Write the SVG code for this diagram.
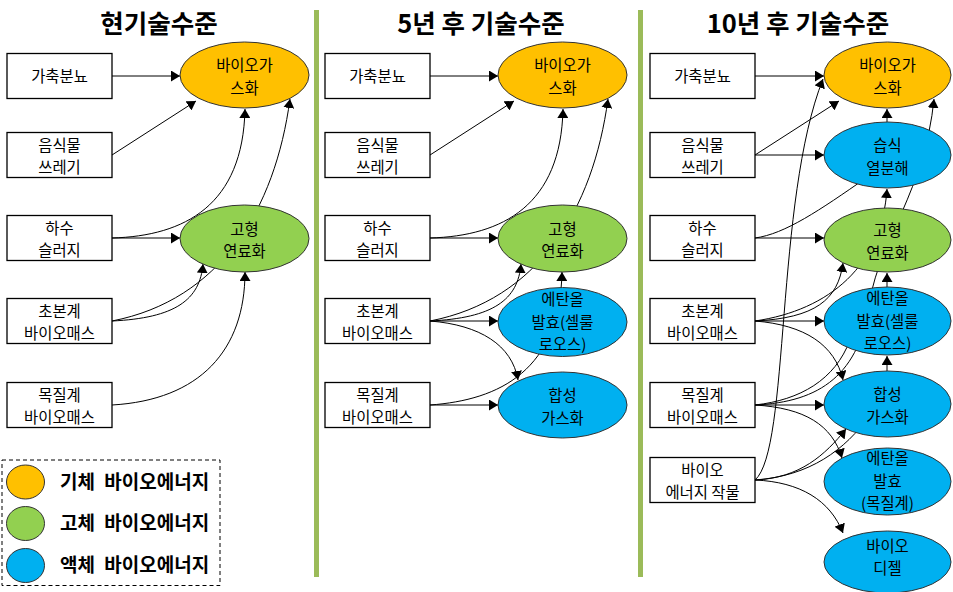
<svg xmlns="http://www.w3.org/2000/svg" width="953" height="592" viewBox="0 0 953 592">
<style>
text{font-family:"Noto Sans CJK KR","Liberation Sans",sans-serif;fill:#000}
.t{font-size:15.4px;text-anchor:middle}
.title{font-size:25.5px;font-weight:bold;text-anchor:middle}
.leg{font-size:19px;font-weight:bold;word-spacing:5px}
.box{fill:#fff;stroke:#000;stroke-width:1.3}
.gas{fill:#FFC000;stroke:#333;stroke-width:1}
.sol{fill:#92D050;stroke:#333;stroke-width:1}
.liq{fill:#00B0F0;stroke:#333;stroke-width:1}
.sep{fill:#9BBB59}
#connectors path{fill:none;stroke:#000;stroke-width:1}
#connectors path.a{marker-end:url(#ah)}
</style>
<defs>
<marker id="ah" viewBox="0 0 10 10" refX="10" refY="5" markerWidth="9" markerHeight="11" markerUnits="userSpaceOnUse" orient="auto" preserveAspectRatio="none"><path d="M0,0 L10,5 L0,10 z" fill="#000"/></marker>
</defs>
<rect width="953" height="592" fill="#fff"/>
<rect class="sep" x="314" y="10" width="5" height="567"/>
<rect class="sep" x="638" y="10" width="5" height="567"/>
<text class="title" x="159" y="33">현기술수준</text>
<text class="title" x="481" y="33">5년 후 기술수준</text>
<text class="title" x="798" y="33">10년 후 기술수준</text>
<g id="connectors">
<!-- panel 1 -->
<path class="a" d="M112,76 L180,76"/>
<path class="a" d="M112,155 L196,101"/>
<path class="a" d="M112,238 L180,238"/>
<path class="a" d="M112,238 C185,236 243,205 245,109"/>
<path class="a" d="M112,321 C220,300 275,210 290,99"/>
<path class="a" d="M112,321 C175,318 200,300 203,264"/>
<path class="a" d="M112,405 C200,400 245,350 245,272"/>
<!-- panel 2 -->
<path class="a" d="M430,76 L498,76"/>
<path class="a" d="M430,155 L514,101"/>
<path class="a" d="M430,238 L498,238"/>
<path class="a" d="M430,238 C503,236 561,205 563,109"/>
<path class="a" d="M430,321 C538,300 593,210 608,99"/>
<path class="a" d="M430,321 C493,318 518,300 521,264"/>
<path class="a" d="M430,321 L498,321"/>
<path class="a" d="M430,321 C480,325 512,345 518,380"/>
<path class="a" d="M430,405 L498,405"/>
<path class="a" d="M430,405 C500,400 560,370 562,272"/>
<!-- panel 3 -->
<path class="a" d="M755,76 L824,76"/>
<path class="a" d="M755,155 L839,101"/>
<path class="a" d="M755,155 L824,155"/>
<path class="a" d="M755,238 L824,238"/>
<path class="a" d="M755,238 C785,234 820,210 866,178 L887,140 L887,109"/>
<path class="a" d="M755,321 C815,318 838,300 843,263"/>
<path class="a" d="M755,321 C830,310 882,265 887,189"/>
<path class="a" d="M755,321 L824,321"/>
<path class="a" d="M755,321 C805,325 835,345 843,380"/>
<path class="a" d="M755,405 L824,405"/>
<path class="a" d="M755,405 C820,402 860,375 870,300 C880,240 925,190 934,99"/>
<path class="a" d="M755,405 C800,400 835,380 850,340 L887,300 L887,273"/>
<path class="a" d="M755,405 C805,408 832,425 842,458"/>
<path class="a" d="M755,480 C800,478 825,455 846,429"/>
<path class="a" d="M755,480 C810,476 845,450 870,415 L887,390 L887,356"/>
<path class="a" d="M755,480 C800,482 830,500 843,533"/>
<path class="a" d="M755,480 C790,450 775,200 823,79"/>
</g>
<!-- panel 1 nodes -->
<g id="p1-manure"><rect class="box" x="7" y="53.5" width="105" height="45"/><text class="t" x="59.5" y="81.5">가축분뇨</text></g>
<g id="p1-food"><rect class="box" x="7" y="132.5" width="105" height="45"/><text class="t"><tspan x="59.5" y="150.5">음식물</tspan><tspan x="59.5" y="173">쓰레기</tspan></text></g>
<g id="p1-sludge"><rect class="box" x="7" y="215.5" width="105" height="45"/><text class="t"><tspan x="59.5" y="233.5">하수</tspan><tspan x="59.5" y="256">슬러지</tspan></text></g>
<g id="p1-herb"><rect class="box" x="7" y="298.5" width="105" height="45"/><text class="t"><tspan x="59.5" y="316.5">초본계</tspan><tspan x="59.5" y="339">바이오매스</tspan></text></g>
<g id="p1-wood"><rect class="box" x="7" y="382.5" width="105" height="45"/><text class="t"><tspan x="59.5" y="400.5">목질계</tspan><tspan x="59.5" y="423">바이오매스</tspan></text></g>
<g id="p1-biogas"><ellipse class="gas" cx="244.5" cy="75" rx="64.5" ry="33"/><text class="t"><tspan x="244.5" y="71">바이오가</tspan><tspan x="244.5" y="93.5">스화</tspan></text></g>
<g id="p1-solid"><ellipse class="sol" cx="244.5" cy="238.5" rx="64.5" ry="33.5"/><text class="t"><tspan x="244.5" y="234.5">고형</tspan><tspan x="244.5" y="257">연료화</tspan></text></g>
<!-- panel 2 nodes -->
<g id="p2-manure"><rect class="box" x="325" y="53.5" width="105" height="45"/><text class="t" x="377.5" y="81.5">가축분뇨</text></g>
<g id="p2-food"><rect class="box" x="325" y="132.5" width="105" height="45"/><text class="t"><tspan x="377.5" y="150.5">음식물</tspan><tspan x="377.5" y="173">쓰레기</tspan></text></g>
<g id="p2-sludge"><rect class="box" x="325" y="215.5" width="105" height="45"/><text class="t"><tspan x="377.5" y="233.5">하수</tspan><tspan x="377.5" y="256">슬러지</tspan></text></g>
<g id="p2-herb"><rect class="box" x="325" y="298.5" width="105" height="45"/><text class="t"><tspan x="377.5" y="316.5">초본계</tspan><tspan x="377.5" y="339">바이오매스</tspan></text></g>
<g id="p2-wood"><rect class="box" x="325" y="382.5" width="105" height="45"/><text class="t"><tspan x="377.5" y="400.5">목질계</tspan><tspan x="377.5" y="423">바이오매스</tspan></text></g>
<g id="p2-biogas"><ellipse class="gas" cx="562.5" cy="75" rx="64.5" ry="33"/><text class="t"><tspan x="562.5" y="71">바이오가</tspan><tspan x="562.5" y="93.5">스화</tspan></text></g>
<g id="p2-solid"><ellipse class="sol" cx="562.5" cy="238.5" rx="64.5" ry="33.5"/><text class="t"><tspan x="562.5" y="234.5">고형</tspan><tspan x="562.5" y="257">연료화</tspan></text></g>
<g id="p2-ethanol"><ellipse class="liq" cx="562.5" cy="322" rx="64.5" ry="34.5"/><text class="t"><tspan x="562.5" y="305">에탄올</tspan><tspan x="562.5" y="327.5">발효(셀룰</tspan><tspan x="562.5" y="350">로오스)</tspan></text></g>
<g id="p2-syngas"><ellipse class="liq" cx="562.5" cy="405" rx="64.5" ry="33"/><text class="t"><tspan x="562.5" y="401">합성</tspan><tspan x="562.5" y="423.5">가스화</tspan></text></g>
<!-- panel 3 nodes -->
<g id="p3-manure"><rect class="box" x="650" y="53.5" width="105" height="45"/><text class="t" x="702.5" y="81.5">가축분뇨</text></g>
<g id="p3-food"><rect class="box" x="650" y="132.5" width="105" height="45"/><text class="t"><tspan x="702.5" y="150.5">음식물</tspan><tspan x="702.5" y="173">쓰레기</tspan></text></g>
<g id="p3-sludge"><rect class="box" x="650" y="215.5" width="105" height="45"/><text class="t"><tspan x="702.5" y="233.5">하수</tspan><tspan x="702.5" y="256">슬러지</tspan></text></g>
<g id="p3-herb"><rect class="box" x="650" y="298.5" width="105" height="45"/><text class="t"><tspan x="702.5" y="316.5">초본계</tspan><tspan x="702.5" y="339">바이오매스</tspan></text></g>
<g id="p3-wood"><rect class="box" x="650" y="382.5" width="105" height="45"/><text class="t"><tspan x="702.5" y="400.5">목질계</tspan><tspan x="702.5" y="423">바이오매스</tspan></text></g>
<g id="p3-crop"><rect class="box" x="650" y="457.5" width="105" height="45"/><text class="t"><tspan x="702.5" y="475.5">바이오</tspan><tspan x="702.5" y="498">에너지 작물</tspan></text></g>
<g id="p3-biogas"><ellipse class="gas" cx="887.5" cy="75" rx="63.5" ry="33"/><text class="t"><tspan x="887.5" y="71">바이오가</tspan><tspan x="887.5" y="93.5">스화</tspan></text></g>
<g id="p3-htc"><ellipse class="liq" cx="887.5" cy="155" rx="63.5" ry="33"/><text class="t"><tspan x="887.5" y="151">습식</tspan><tspan x="887.5" y="173.5">열분해</tspan></text></g>
<g id="p3-solid"><ellipse class="sol" cx="887.5" cy="240" rx="63.5" ry="32"/><text class="t"><tspan x="887.5" y="236">고형</tspan><tspan x="887.5" y="258.5">연료화</tspan></text></g>
<g id="p3-ethanol"><ellipse class="liq" cx="887.5" cy="321" rx="63.5" ry="34"/><text class="t"><tspan x="887.5" y="304">에탄올</tspan><tspan x="887.5" y="326.5">발효(셀룰</tspan><tspan x="887.5" y="349">로오스)</tspan></text></g>
<g id="p3-syngas"><ellipse class="liq" cx="887.5" cy="404" rx="63.5" ry="33"/><text class="t"><tspan x="887.5" y="400">합성</tspan><tspan x="887.5" y="422.5">가스화</tspan></text></g>
<g id="p3-ethanol-wood"><ellipse class="liq" cx="887.5" cy="481.5" rx="63.5" ry="33.5"/><text class="t"><tspan x="887.5" y="464">에탄올</tspan><tspan x="887.5" y="486.5">발효</tspan><tspan x="887.5" y="509">(목질계)</tspan></text></g>
<g id="p3-biodiesel"><ellipse class="liq" cx="887.5" cy="562" rx="63.5" ry="31"/><text class="t"><tspan x="887.5" y="551.5">바이오</tspan><tspan x="887.5" y="574">디젤</tspan></text></g>
<!-- legend -->
<g id="legend">
<rect x="2" y="460" width="218" height="125.5" fill="none" stroke="#000" stroke-width="1" stroke-dasharray="4,3"/>
<ellipse class="gas" cx="25.5" cy="482" rx="19" ry="17"/>
<ellipse class="sol" cx="25.5" cy="523.5" rx="19" ry="17"/>
<ellipse class="liq" cx="25.5" cy="565.5" rx="19" ry="17"/>
<text class="leg" x="60" y="488.5">기체 바이오에너지</text>
<text class="leg" x="60" y="530">고체 바이오에너지</text>
<text class="leg" x="60" y="572">액체 바이오에너지</text>
</g>
</svg>
